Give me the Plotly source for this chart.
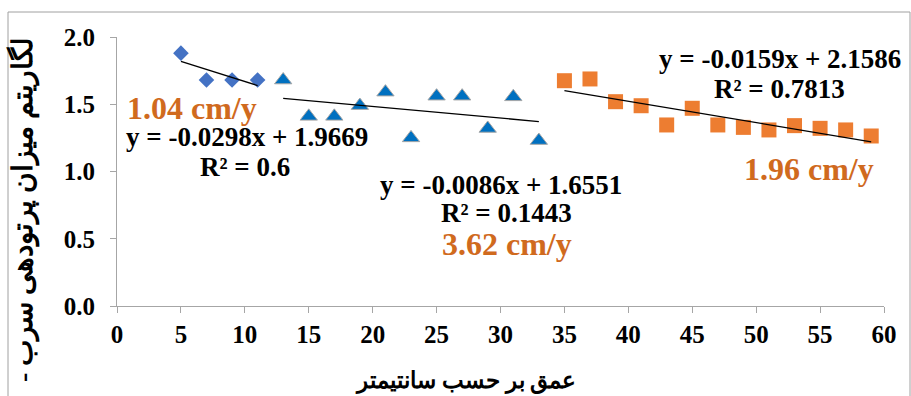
import plotly.graph_objects as go

# ---- data ----
x_a = [5, 7, 9, 11]
y_a = [1.88, 1.68, 1.68, 1.68]
x_b = [13, 15, 17, 19, 21, 23, 25, 27, 29, 31, 33]
y_b = [1.68, 1.41, 1.41, 1.49, 1.59, 1.25, 1.56, 1.56, 1.32, 1.555, 1.23]
x_c = [35, 37, 39, 41, 43, 45, 47, 49, 51, 53, 55, 57, 59]
y_c = [1.675, 1.688, 1.519, 1.489, 1.346, 1.47, 1.346, 1.328, 1.309, 1.341, 1.321, 1.309, 1.264]

fit_slope = [-0.0298, -0.0086, -0.0159]
fit_icpt = [1.9669, 1.6551, 2.1586]
fit_r2 = ["0.6", "0.1443", "0.7813"]
rates = ["1.04 cm/y", "3.62 cm/y", "1.96 cm/y"]

x_ticks = [0, 5, 10, 15, 20, 25, 30, 35, 40, 45, 50, 55, 60]
y_ticks = [0.0, 0.5, 1.0, 1.5, 2.0]
y_tick_text = ["0.0", "0.5", "1.0", "1.5", "2.0"]

x_title = "عمق بر حسب سانتیمتر"
y_title = "لگاریتم میزان پرتودهی سرب -\u200f"

FONT = "Liberation Serif, Times New Roman, serif"
ORANGE_TXT = "#D06A1E"

fig = go.Figure()

fig.add_trace(go.Scatter(x=x_a, y=y_a, mode="markers",
                         marker=dict(symbol="diamond", size=12, color="#4472C4",
                                     line=dict(width=0)), showlegend=False))
fig.add_trace(go.Scatter(x=x_b, y=y_b, mode="markers",
                         marker=dict(symbol="triangle-up", size=15, color="#0070C0",
                                     line=dict(width=1, color="#A6A6A6")), showlegend=False))
fig.add_trace(go.Scatter(x=x_c, y=y_c, mode="markers",
                         marker=dict(symbol="square", size=15, color="#ED7D31",
                                     line=dict(width=0)), showlegend=False))

for xs, m, b in zip([x_a, x_b, x_c], fit_slope, fit_icpt):
    x0, x1 = min(xs), max(xs)
    fig.add_trace(go.Scatter(x=[x0, x1], y=[m * x0 + b, m * x1 + b], mode="lines",
                             line=dict(color="black", width=1.3), showlegend=False,
                             hoverinfo="skip"))

def eq_text(m, b):
    return "y = %.4fx + %.4f" % (m, b)

txt_font = dict(family=FONT, size=27, color="black", weight="bold")
rate_font = dict(family=FONT, size=32, color=ORANGE_TXT, weight="bold")

ann = [
    dict(x=10.2, y=1.255, text=eq_text(fit_slope[0], fit_icpt[0]), font=txt_font),
    dict(x=10.0, y=1.035, text="R² = " + fit_r2[0], font=txt_font),
    dict(x=5.9, y=1.475, text=rates[0], font=rate_font),
    dict(x=30.0, y=0.90, text=eq_text(fit_slope[1], fit_icpt[1]), font=txt_font),
    dict(x=30.5, y=0.695, text="R² = " + fit_r2[1], font=txt_font),
    dict(x=30.5, y=0.46, text=rates[1], font=rate_font),
    dict(x=51.9, y=1.833, text=eq_text(fit_slope[2], fit_icpt[2]), font=txt_font),
    dict(x=51.8, y=1.615, text="R² = " + fit_r2[2], font=txt_font),
    dict(x=54.1, y=1.02, text=rates[2], font=rate_font),
]
for a in ann:
    a.update(xref="x", yref="y", showarrow=False, xanchor="center", yanchor="middle")

# axis titles (pixel positions converted to paper coords)
L, R, T, B = 117, 27, 37, 90
W, H = 911, 396
pw, ph = W - L - R, H - T - B
def px(xp):
    return (xp - L) / pw
def py(yp):
    return (H - B - yp) / ph

ann.append(dict(x=px(465), y=py(381), xref="paper", yref="paper", text=x_title,
                showarrow=False, xanchor="center", yanchor="middle",
                font=dict(family=FONT, size=23, color="black", weight="bold")))
ann.append(dict(x=px(23), y=py(210), xref="paper", yref="paper", text=y_title,
                showarrow=False, xanchor="center", yanchor="middle", textangle=-90,
                font=dict(family=FONT, size=28, color="black", weight="bold")))

fig.update_layout(
    width=W, height=H,
    margin=dict(l=L, r=R, t=T, b=B),
    paper_bgcolor="white", plot_bgcolor="white",
    annotations=ann,
    shapes=[dict(type="rect", xref="paper", yref="paper",
                 x0=px(8), x1=px(910), y0=py(12), y1=py(500),
                 line=dict(color="#A0A0A0", width=1), layer="below")],
    xaxis=dict(range=[0, 60], tickvals=x_ticks, showgrid=False, zeroline=False,
               showline=True, linecolor="#A6A6A6", linewidth=1,
               ticks="outside", ticklen=6, tickcolor="#A6A6A6",
               tickfont=dict(family=FONT, size=25, color="black", weight="bold")),
    yaxis=dict(range=[0, 2.0], tickvals=y_ticks, ticktext=y_tick_text, showgrid=False,
               zeroline=False, showline=True, linecolor="#A6A6A6", linewidth=1,
               ticks="outside", ticklen=6, tickcolor="#A6A6A6", ticklabelstandoff=10,
               tickfont=dict(family=FONT, size=25, color="black", weight="bold")),
)

fig.write_html("out.html", config={"displayModeBar": False},
               post_script="document.body.style.margin='0';")
